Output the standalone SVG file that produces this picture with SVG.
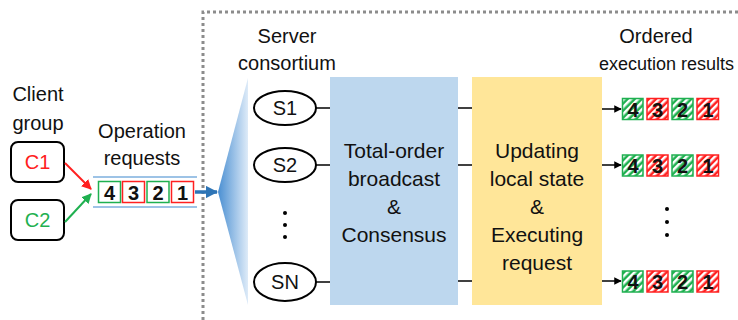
<svg xmlns="http://www.w3.org/2000/svg" width="738" height="320" viewBox="0 0 738 320">
  <style>
    text { font-family: "Liberation Sans", Arial, sans-serif; fill: #111; }
    .lbl { font-size: 20px; text-anchor: middle; }
    .box-t { font-size: 21px; text-anchor: middle; }
    .num { font-size: 20px; font-weight: bold; text-anchor: middle; }
    .wire { stroke: #000; stroke-width: 1.5; fill: none; }
    .node { fill: #fff; stroke: #000; stroke-width: 2; }
    .q-red { fill: #fff; stroke: #ff2020; stroke-width: 1.5; }
    .q-green { fill: #fff; stroke: #1fb050; stroke-width: 1.5; }
    .r-red { fill: url(#hatchRed); stroke: #ff2020; stroke-width: 1.5; }
    .r-green { fill: url(#hatchGreen); stroke: #1fb050; stroke-width: 1.5; }
    .dot { fill: #000; }
  </style>
  <defs>
    <marker id="arrBlack" viewBox="0 0 10 10" refX="9" refY="5" markerWidth="5" markerHeight="5" orient="auto">
      <path d="M0,0 L10,5 L0,10 z" fill="#000"/>
    </marker>
    <marker id="arrRed" viewBox="0 0 10 10" refX="9" refY="5" markerWidth="5" markerHeight="5" orient="auto">
      <path d="M0,0 L10,5 L0,10 z" fill="#ff2020"/>
    </marker>
    <marker id="arrGreen" viewBox="0 0 10 10" refX="9" refY="5" markerWidth="5" markerHeight="5" orient="auto">
      <path d="M0,0 L10,5 L0,10 z" fill="#1fb050"/>
    </marker>
    <marker id="arrBlue" viewBox="0 0 10 10" refX="9" refY="5" markerWidth="3.5" markerHeight="3.5" orient="auto">
      <path d="M0,0 L10,5 L0,10 z" fill="#2e75b6"/>
    </marker>
    <pattern id="hatchGreen" patternUnits="userSpaceOnUse" width="5" height="5" patternTransform="rotate(45)">
      <rect width="5" height="5" fill="#1fb050"/>
      <rect width="2.5" height="5" fill="#fff"/>
    </pattern>
    <pattern id="hatchRed" patternUnits="userSpaceOnUse" width="5" height="5" patternTransform="rotate(45)">
      <rect width="5" height="5" fill="#ff2020"/>
      <rect width="2.5" height="5" fill="#fff"/>
    </pattern>
    <linearGradient id="fanGrad" x1="0" y1="0" x2="1" y2="0">
      <stop offset="0" stop-color="#4a8fd2"/>
      <stop offset="1" stop-color="#deebf8"/>
    </linearGradient>
  </defs>

  <!-- server-side boundary -->
  <path d="M203,320 L203,12 L738,12" fill="none" stroke="#8c8c8c" stroke-width="3" stroke-dasharray="3,3"/>

  <!-- clients -->
  <text class="lbl" x="38" y="101">Client</text>
  <text class="lbl" x="38" y="130">group</text>
  <g id="C1">
    <rect class="node" x="11" y="142" width="53" height="40" rx="7"/>
    <text class="lbl" x="37.5" y="169" style="fill:#ff2020">C1</text>
  </g>
  <g id="C2">
    <rect class="node" x="11" y="200" width="53" height="40" rx="7"/>
    <text class="lbl" x="37.5" y="227" style="fill:#1fb050">C2</text>
  </g>

  <!-- request queue -->
  <g id="queue">
    <text class="lbl" x="142" y="138">Operation</text>
    <text class="lbl" x="142" y="165">requests</text>
    <line x1="93" y1="177" x2="197" y2="177" stroke="#9dc3e6" stroke-width="2"/>
    <line x1="93" y1="207" x2="197" y2="207" stroke="#9dc3e6" stroke-width="2"/>
    <rect class="q-green" x="98.5" y="181.5" width="22" height="21"/>
    <text class="num" x="109.5" y="199.5">4</text>
    <rect class="q-red" x="122.5" y="181.5" width="22" height="21"/>
    <text class="num" x="133.5" y="199.5">3</text>
    <rect class="q-green" x="147" y="181.5" width="22" height="21"/>
    <text class="num" x="158" y="199.5">2</text>
    <rect class="q-red" x="171.5" y="181.5" width="22" height="21"/>
    <text class="num" x="182.5" y="199.5">1</text>
  </g>

  <!-- fan-out into the consortium -->
  <polygon points="218,192 248,78 248,305" fill="url(#fanGrad)"/>

  <text class="lbl" x="287" y="43">Server</text>
  <text class="lbl" x="287" y="70">consortium</text>

  <g id="S1">
    <ellipse class="node" cx="285" cy="108" rx="31" ry="17"/>
    <text class="lbl" x="285" y="115">S1</text>
  </g>
  <g id="S2">
    <ellipse class="node" cx="285" cy="165" rx="31" ry="17"/>
    <text class="lbl" x="285" y="172">S2</text>
  </g>
  <g id="SN">
    <ellipse class="node" cx="285" cy="282" rx="31" ry="19"/>
    <text class="lbl" x="285" y="289">SN</text>
  </g>
  <circle class="dot" cx="285" cy="213" r="2"/>
  <circle class="dot" cx="285" cy="225" r="2"/>
  <circle class="dot" cx="285" cy="237" r="2"/>

  <!-- processing stages -->
  <g id="consensus">
    <rect x="330" y="77" width="128" height="228" fill="#bdd7ee"/>
    <text class="box-t" x="394" y="158">Total-order</text>
    <text class="box-t" x="394" y="186">broadcast</text>
    <text class="box-t" x="394" y="214">&amp;</text>
    <text class="box-t" x="394" y="242">Consensus</text>
  </g>
  <g id="execution">
    <rect x="472" y="77" width="130" height="228" fill="#ffe699"/>
    <text class="box-t" x="537" y="158">Updating</text>
    <text class="box-t" x="537" y="186">local state</text>
    <text class="box-t" x="537" y="214">&amp;</text>
    <text class="box-t" x="537" y="242">Executing</text>
    <text class="box-t" x="537" y="270">request</text>
  </g>

  <!-- ordered results -->
  <text class="lbl" x="656" y="43">Ordered</text>
  <text x="734" y="70" style="font-size:18px;text-anchor:end">execution results</text>

  <g id="results1">
    <rect class="r-green" x="622.5" y="98.5" width="20.5" height="21"/>
    <text class="num" x="633" y="116.5">4</text>
    <rect class="r-red" x="647" y="98.5" width="21" height="21"/>
    <text class="num" x="657.5" y="116.5">3</text>
    <rect class="r-green" x="672" y="98.5" width="21" height="21"/>
    <text class="num" x="682.5" y="116.5">2</text>
    <rect class="r-red" x="697" y="98.5" width="21.5" height="21"/>
    <text class="num" x="708" y="116.5">1</text>
  </g>
  <g id="results2">
    <rect class="r-green" x="622.5" y="155" width="20.5" height="21"/>
    <text class="num" x="633" y="173">4</text>
    <rect class="r-red" x="647" y="155" width="21" height="21"/>
    <text class="num" x="657.5" y="173">3</text>
    <rect class="r-green" x="672" y="155" width="21" height="21"/>
    <text class="num" x="682.5" y="173">2</text>
    <rect class="r-red" x="697" y="155" width="21.5" height="21"/>
    <text class="num" x="708" y="173">1</text>
  </g>
  <g id="resultsN">
    <rect class="r-green" x="622.5" y="271" width="20.5" height="21"/>
    <text class="num" x="633" y="289">4</text>
    <rect class="r-red" x="647" y="271" width="21" height="21"/>
    <text class="num" x="657.5" y="289">3</text>
    <rect class="r-green" x="672" y="271" width="21" height="21"/>
    <text class="num" x="682.5" y="289">2</text>
    <rect class="r-red" x="697" y="271" width="21.5" height="21"/>
    <text class="num" x="708" y="289">1</text>
  </g>
  <circle class="dot" cx="667" cy="209" r="2"/>
  <circle class="dot" cx="667" cy="222" r="2"/>
  <circle class="dot" cx="667" cy="235" r="2"/>

  <!-- connectors -->
  <g id="connectors">
    <line x1="65" y1="163" x2="91" y2="189" stroke="#ff2020" stroke-width="2" marker-end="url(#arrRed)"/>
    <line x1="65" y1="222" x2="91" y2="194" stroke="#1fb050" stroke-width="2" marker-end="url(#arrGreen)"/>
    <line x1="195" y1="192" x2="217" y2="192" stroke="#2e75b6" stroke-width="3.5" marker-end="url(#arrBlue)"/>
    <line class="wire" x1="316" y1="108" x2="330" y2="108"/>
    <line class="wire" x1="316" y1="165" x2="330" y2="165"/>
    <line class="wire" x1="316" y1="282" x2="330" y2="282"/>
    <line class="wire" x1="458" y1="108" x2="472" y2="108"/>
    <line class="wire" x1="458" y1="165" x2="472" y2="165"/>
    <line class="wire" x1="458" y1="281" x2="472" y2="281"/>
    <line class="wire" x1="602" y1="109" x2="621" y2="109" marker-end="url(#arrBlack)"/>
    <line class="wire" x1="602" y1="165" x2="621" y2="165" marker-end="url(#arrBlack)"/>
    <line class="wire" x1="602" y1="281" x2="621" y2="281" marker-end="url(#arrBlack)"/>
  </g>
</svg>
